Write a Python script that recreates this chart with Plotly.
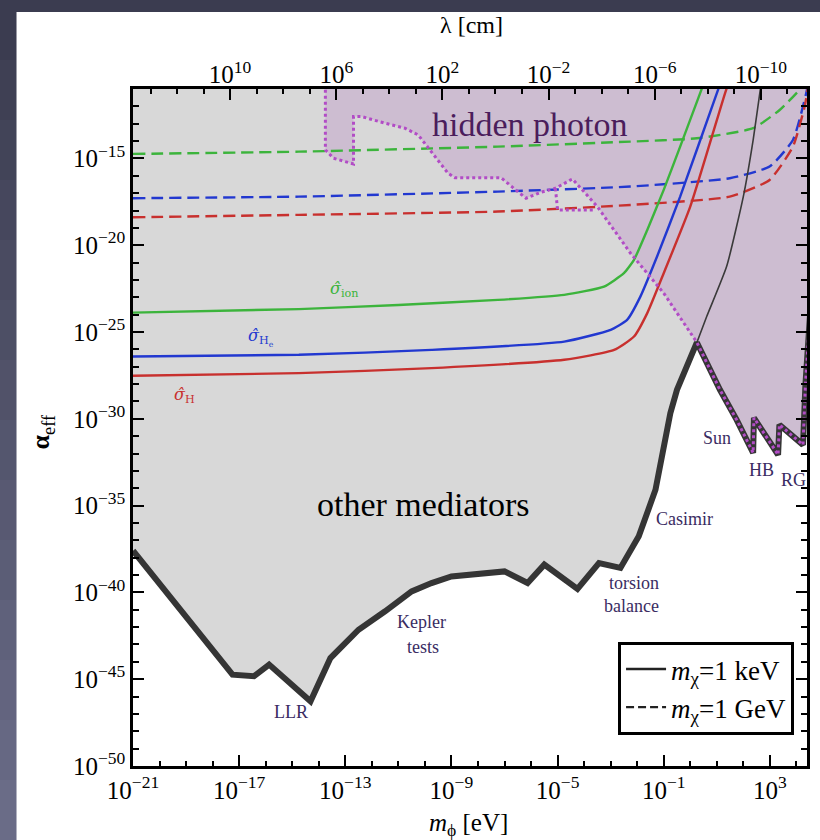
import plotly.graph_objects as go

# ---------------------------------------------------------------------------
# Data (log10 of m_phi in eV, log10 of alpha_eff)
# ---------------------------------------------------------------------------

# lower edge of the "other mediators" excluded region (thick dark curve)
bound_logm = [-21.0, -17.25, -16.44, -15.87, -14.31, -13.56, -12.5, -12.12, -11.5, -10.5,
              -9.75, -9.0, -8.0, -7.0, -6.13, -5.5, -4.25, -3.44, -2.63, -1.94, -1.31,
              -0.75, -0.5, 0.25, 1.12, 1.75, 2.37, 2.40, 3.31, 3.36, 4.25, 4.34, 4.6]
bound_loga = [-37.6, -44.74, -44.83, -44.16, -46.27, -43.78, -42.15, -41.76, -41.09, -39.94,
              -39.46, -39.08, -38.92, -38.79, -39.46, -38.4, -39.8, -38.31, -38.59, -36.77, -34.09,
              -29.67, -28.33, -25.6, -28.33, -30.06, -31.96, -29.94, -32.07, -30.34, -31.5, -28.04, -22.0]

# hidden-photon bound (dotted), from the top edge down to where it meets the curve above
hp_logm = [-13.75, -13.75, -13.44, -12.69, -12.69, -12.38, -11.5, -10.75, -10.25, -9.75,
           -9.13, -8.87, -7.13, -6.5, -6.19, -5.63, -5.08, -4.44, -3.5, -2.25, -1.0, 0.25]
hp_loga = [-10.0, -14.51, -14.99, -15.32, -12.59, -12.59, -12.97, -13.26, -13.65, -14.61,
           -15.85, -16.11, -16.11, -16.91, -17.29, -16.95, -16.72, -16.18, -17.78, -20.46, -22.76, -25.6]
hp_notch_logm = [-5.08, -5.0, -3.65]
hp_notch_loga = [-16.72, -17.97, -17.97]

# stellar-cooling part shared by both bounds (Sun, HB, RG)
star_start = 23  # index in bound_* where the apex sits

# thin dark curve rising from the apex
thin_logm = [0.25, 0.62, 1.37, 2.0, 2.37, 2.62, 2.7]
thin_loga = [-25.6, -24.11, -21.23, -17.2, -13.94, -11.25, -10.4]

# sigma-hat curves, m_chi = 1 keV (solid)
ion_keV_logm = [-21.0, -14.75, -11.0, -7.25, -4.75, -3.25, -2.5, -2.12, -1.62, -1.0, -0.38, 0.37, 0.55]
ion_keV_loga = [-23.88, -23.68, -23.44, -23.15, -22.86, -22.38, -21.61, -20.84, -19.12, -16.81, -14.32, -11.25, -10.5]
he_keV_logm = [-21.0, -14.75, -9.75, -4.75, -3.0, -2.38, -1.88, -1.25, -0.38, 1.0, 1.2]
he_keV_loga = [-26.41, -26.31, -26.03, -25.55, -24.87, -24.3, -22.96, -20.65, -17.2, -11.25, -10.4]
h_keV_logm = [-21.0, -14.75, -9.75, -4.75, -2.87, -2.12, -1.62, -1.0, 0.0, 1.31, 1.5]
h_keV_loga = [-27.52, -27.37, -27.08, -26.6, -26.03, -25.26, -23.91, -21.61, -17.78, -11.25, -10.4]

# sigma-hat curves, m_chi = 1 GeV (dashed)
ion_GeV_logm = [-21.0, -14.75, -7.25, -2.26, 0.25, 2.37, 3.37, 4.11, 4.3]
ion_GeV_loga = [-14.74, -14.61, -14.32, -14.03, -13.84, -13.26, -12.21, -11.06, -10.6]
he_GeV_logm = [-21.0, -14.75, -7.25, -2.26, 1.49, 2.99, 3.87, 4.37, 4.45]
he_GeV_loga = [-17.29, -17.2, -16.91, -16.62, -16.14, -15.47, -13.94, -11.25, -10.6]
h_GeV_logm = [-21.0, -14.75, -7.25, -2.26, 1.49, 2.99, 3.87, 4.31, 4.45]
h_GeV_loga = [-18.39, -18.25, -18.06, -17.68, -17.2, -16.24, -14.32, -12.02, -10.8]

# axis ticks
x_major_exp = [-21, -17, -13, -9, -5, -1, 3]
y_major_exp = [-50, -45, -40, -35, -30, -25, -20, -15]
lam_major_exp = [10, 6, 2, -2, -6, -10]
lam_offset = -7.34          # log10(lambda/cm) = lam_offset - log10(m/eV)
x_range = [-21.0, 4.4]
y_range = [-50.0, -11.0]

# ---------------------------------------------------------------------------
GRAY = "#d8d8d8"
PURPLE = "#cdbdd1"
DOTS = "#b24cc6"
DARK = "#353535"
GREEN = "#3cb43c"
BLUE = "#2238d0"
RED = "#c8302e"
LABEL = "#3a2c62"
SERIF = "Liberation Serif"

# plot-area geometry in pixels
L, R, T, B = 133, 10, 89, 74
W_PX, H_PX = 820, 840
PW = W_PX - L - R
PH = H_PX - T - B


def pw(vals):
    return [10.0 ** v for v in vals]


def paper_x(px):
    return (px - L) / PW


def paper_y(py):
    return (H_PX - B - py) / PH


fig = go.Figure()

# grey region above the thick curve
gx = bound_logm + [4.6, -21.0]
gy = bound_loga + [-10.0, -10.0]
fig.add_trace(go.Scatter(x=pw(gx), y=pw(gy), fill="toself", fillcolor=GRAY,
                         line=dict(width=0), mode="lines", hoverinfo="skip", showlegend=False))

# purple hidden-photon region
px_ = hp_logm + bound_logm[star_start + 1:] + [4.6]
py_ = hp_loga + bound_loga[star_start + 1:] + [-10.0]
fig.add_trace(go.Scatter(x=pw(px_), y=pw(py_), fill="toself", fillcolor=PURPLE,
                         line=dict(width=0), mode="lines", hoverinfo="skip", showlegend=False))


def curve(lx, ly, color, dash, width=2.4):
    fig.add_trace(go.Scatter(x=pw(lx), y=pw(ly), mode="lines",
                             line=dict(color=color, width=width, dash=dash, shape="spline", smoothing=0.5),
                             hoverinfo="skip", showlegend=False))


curve(ion_GeV_logm, ion_GeV_loga, GREEN, "12px,6px")
curve(he_GeV_logm, he_GeV_loga, BLUE, "12px,6px")
curve(h_GeV_logm, h_GeV_loga, RED, "12px,6px")
curve(ion_keV_logm, ion_keV_loga, GREEN, "solid")
curve(he_keV_logm, he_keV_loga, BLUE, "solid")
curve(h_keV_logm, h_keV_loga, RED, "solid")

# thin dark curve
fig.add_trace(go.Scatter(x=pw(thin_logm), y=pw(thin_loga), mode="lines",
                         line=dict(color="#3a3a3a", width=1.6, shape="spline", smoothing=0.5),
                         hoverinfo="skip", showlegend=False))

# thick bound
fig.add_trace(go.Scatter(x=pw(bound_logm), y=pw(bound_loga), mode="lines",
                         line=dict(color=DARK, width=6), hoverinfo="skip", showlegend=False))

# dotted hidden photon edge
dot_x = hp_logm + bound_logm[star_start + 1:]
dot_y = hp_loga + bound_loga[star_start + 1:]
fig.add_trace(go.Scatter(x=pw(dot_x), y=pw(dot_y), mode="lines",
                         line=dict(color=DOTS, width=3, dash="dot"), hoverinfo="skip", showlegend=False))
fig.add_trace(go.Scatter(x=pw(hp_notch_logm), y=pw(hp_notch_loga), mode="lines",
                         line=dict(color=DOTS, width=3, dash="dot"), hoverinfo="skip", showlegend=False))

# legend entries
fig.add_trace(go.Scatter(x=[None], y=[None], mode="lines", line=dict(color="#222", width=2.4),
                         name="<i>m</i><sub>χ</sub>=1 keV"))
fig.add_trace(go.Scatter(x=[None], y=[None], mode="lines", line=dict(color="#222", width=2.4, dash="8px,4px"),
                         name="<i>m</i><sub>χ</sub>=1 GeV"))

# carrier for the top wavelength axis
fig.add_trace(go.Scatter(x=[None], y=[None], xaxis="x2", mode="lines", showlegend=False, hoverinfo="skip"))


def sup(e):
    return "10<sup>" + ("−" + str(-e) if e < 0 else str(e)) + "</sup>"


x_minor = [10.0 ** e for e in range(-21, 5) if e not in x_major_exp]
y_minor = [10.0 ** e for e in range(-50, -10) if e not in y_major_exp]
lam_lo = int(lam_offset - x_range[1]) - 1
lam_hi = int(lam_offset - x_range[0]) + 1
lam_minor = [10.0 ** e for e in range(lam_lo, lam_hi + 1) if e not in lam_major_exp]

axis_common = dict(showgrid=False, zeroline=False, ticks="inside", tickcolor="black",
                   ticklen=11, tickwidth=2)

fig.update_layout(
    width=W_PX, height=H_PX,
    margin=dict(l=L, r=R, t=T, b=B),
    paper_bgcolor="#4a4c64",
    plot_bgcolor="white",
    font=dict(family=SERIF, color="black"),
    xaxis=dict(type="log", range=x_range, tickvals=[10.0 ** e for e in x_major_exp],
               ticktext=[sup(e) for e in x_major_exp], tickfont=dict(size=25, family=SERIF),
               showline=True, linecolor="black", linewidth=2.5, mirror=True,
               minor=dict(tickvals=x_minor, ticks="inside", ticklen=5, tickwidth=1.5, tickcolor="black"),
               **axis_common),
    xaxis2=dict(type="log", overlaying="x", side="top", anchor="y",
                range=[lam_offset - x_range[0], lam_offset - x_range[1]],
                tickvals=[10.0 ** e for e in lam_major_exp], ticktext=[sup(e) for e in lam_major_exp],
                tickfont=dict(size=25, family=SERIF), showline=False,
                minor=dict(tickvals=lam_minor, ticks="inside", ticklen=5, tickwidth=1.5, tickcolor="black"),
                **axis_common),
    yaxis=dict(type="log", range=y_range, tickvals=[10.0 ** e for e in y_major_exp],
               ticktext=[sup(e) for e in y_major_exp], tickfont=dict(size=25, family=SERIF),
               showline=True, linecolor="black", linewidth=2.5, mirror="ticks",
               minor=dict(tickvals=y_minor, ticks="inside", ticklen=6, tickwidth=1.5, tickcolor="black"),
               **axis_common),
    legend=dict(x=paper_x(797), y=paper_y(735), xanchor="right", yanchor="bottom", bgcolor="white",
                bordercolor="black", borderwidth=3, font=dict(size=27, family=SERIF),
                tracegroupgap=2, itemwidth=40),
)

# slide background: white panel over a dark gradient
grad_top = (58, 59, 78)
grad_bot = (108, 110, 138)
n_band = 14
for i in range(n_band):
    t = (i + 0.5) / n_band
    c = tuple(int(grad_top[k] + (grad_bot[k] - grad_top[k]) * t) for k in range(3))
    fig.add_shape(type="rect", xref="paper", yref="paper", layer="below",
                  x0=-0.3, x1=1.1,
                  y0=paper_y(H_PX * i / n_band), y1=paper_y(H_PX * (i + 1) / n_band),
                  fillcolor="rgb(%d,%d,%d)" % c, line=dict(width=0))
fig.add_shape(type="rect", xref="paper", yref="paper", layer="below",
              x0=paper_x(16), x1=1.1, y0=-0.2, y1=paper_y(12),
              fillcolor="white", line=dict(width=0))


def label(lx, ly, text, size=18, color=LABEL):
    fig.add_annotation(x=lx, y=ly, xref="x", yref="y", text=text, showarrow=False,
                       xanchor="center", yanchor="middle",
                       font=dict(size=size, color=color, family=SERIF))


def sigma_label(lx, ly, sub, color):
    # hatted sigma; DejaVu Serif carries the combining circumflex so it stacks on the sigma
    fig.add_annotation(x=lx, y=ly, xref="x", yref="y",
                       text="<i>σ̂</i><sub>" + sub + "</sub>",
                       showarrow=False, xanchor="center", yanchor="middle",
                       font=dict(size=16, color=color, family="DejaVu Serif"))


label(-6.06, -13.07, "hidden photon", size=34, color="#4b1d5c")
label(-10.06, -34.95, "other mediators", size=34, color="black")
sigma_label(-13.06, -22.57, "ion", GREEN)
sigma_label(-16.17, -25.33, "H<sub>e</sub>", BLUE)
sigma_label(-19.06, -28.67, "H", RED)
label(-15.05, -46.87, "LLR")
label(-10.13, -41.69, "Kepler")
label(-10.06, -43.12, "tests")
label(-2.11, -39.44, "torsion")
label(-2.23, -40.76, "balance")
label(-0.2, -35.76, "Casimir")
label(1.0, -31.09, "Sun")
label(2.68, -32.93, "HB")
label(3.88, -33.51, "RG")

# axis titles
fig.add_annotation(x=paper_x(470), y=paper_y(824), xref="paper", yref="paper",
                   xanchor="center", yanchor="middle",
                   text="<i>m</i><sub>ϕ</sub> [eV]", showarrow=False, font=dict(size=25, family=SERIF))
fig.add_annotation(x=paper_x(473), y=paper_y(25), xref="paper", yref="paper",
                   xanchor="center", yanchor="middle",
                   text="λ [cm]", showarrow=False, font=dict(size=24, family=SERIF))
fig.add_annotation(x=paper_x(42), y=paper_y(432), xref="paper", yref="paper",
                   xanchor="center", yanchor="middle",
                   text="<b>α</b><sub>eff</sub>", textangle=-90, showarrow=False,
                   font=dict(size=26, family=SERIF))

fig.write_html("out.html")
